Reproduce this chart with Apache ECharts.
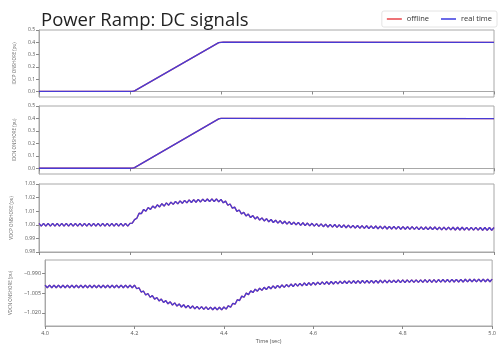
<!DOCTYPE html>
<html>
<head>
<meta charset="utf-8">
<script src="https://cdn.jsdelivr.net/npm/echarts@6/dist/echarts.min.js"></script>
<style>html,body{margin:0;padding:0;background:#fff}#c{width:499px;height:345px}</style>
</head>
<body>
<div id="c"></div>
<script>
// sampling grid of the DC voltage traces
const t0 = 4.0, dt = 0.005;

// current ramp breakpoints
const rampT = [4.0, 4.2, 4.205, 4.21, 4.395, 4.4, 4.405, 5.0];
const idcp  = [0, 0, 0.001, 0.005, 0.397, 0.4, 0.401, 0.4];
const idcn  = [0, 0, 0.001, 0.005, 0.397, 0.4, 0.401, 0.399];

// VDCP ONSHORE (pu)
const vdcp = [
1.001,0.999,1.001,0.999,1.001,0.999,1.001,0.999,1.001,0.999,1.001,0.999,1.001,0.999,1.001,0.999,1.001,0.999,1.001,0.999,
1.001,0.999,1.001,0.999,1.001,0.999,1.001,0.999,1.001,0.999,1.001,0.999,1.001,0.999,1.001,0.999,1.001,0.999,1.001,0.999,
1.001,1.0012,1.0038,1.0048,1.0085,1.0082,1.0113,1.010,1.0127,1.0113,1.0138,1.0123,1.0147,1.0131,1.0155,1.0138,1.0161,1.0144,1.0167,1.015,
1.0172,1.0154,1.0176,1.0158,1.018,1.0161,1.0183,1.0164,1.0185,1.0166,1.0187,1.0168,1.0189,1.017,1.019,1.0171,1.0191,1.0171,1.019,1.0169,
1.0187,1.0162,1.0174,1.0144,1.0153,1.0122,1.013,1.0099,1.0109,1.008,1.0092,1.0065,1.0079,1.0053,1.0068,1.0043,1.0059,1.0035,1.0051,1.0028,
1.0045,1.0022,1.0039,1.0017,1.0034,1.0012,1.003,1.0008,1.0026,1.0005,1.0023,1.0002,1.002,0.9999,1.0018,0.9996,1.0015,0.9994,1.0013,0.9992,
1.0011,0.999,1.0009,0.9988,1.0007,0.9986,1.0005,0.9984,1.0003,0.9983,1.0002,0.9981,1.000,0.998,0.9999,0.9978,0.9998,0.9977,0.9996,0.9976,
0.9995,0.9975,0.9994,0.9974,0.9993,0.9973,0.9992,0.9972,0.9991,0.9971,0.999,0.997,0.999,0.9969,0.9989,0.9969,0.9988,0.9968,0.9988,0.9967,
0.9987,0.9967,0.9986,0.9966,0.9986,0.9966,0.9985,0.9965,0.9985,0.9965,0.9984,0.9964,0.9984,0.9964,0.9984,0.9964,0.9983,0.9963,0.9983,0.9963,
0.9983,0.9963,0.9982,0.9962,0.9982,0.9962,0.9982,0.9962,0.9981,0.9961,0.9981,0.9961,0.9981,0.9961,0.998,0.996,0.998,0.996,0.998,0.996,
0.998
];

// VDCN ONSHORE (pu)
const vdcn = [
-0.999,-1.001,-0.999,-1.001,-0.999,-1.001,-0.999,-1.001,-0.999,-1.001,-0.999,-1.001,-0.999,-1.001,-0.999,-1.001,-0.999,-1.001,-0.999,-1.001,
-0.999,-1.001,-0.999,-1.001,-0.999,-1.001,-0.999,-1.001,-0.999,-1.001,-0.999,-1.001,-0.999,-1.001,-0.999,-1.001,-0.999,-1.001,-0.999,-1.001,
-0.999,-1.0018,-1.001,-1.0043,-1.0035,-1.0065,-1.0054,-1.0082,-1.007,-1.0097,-1.0084,-1.011,-1.0096,-1.0122,-1.0107,-1.0132,-1.0117,-1.0141,-1.0125,-1.0149,
-1.0133,-1.0156,-1.0139,-1.0162,-1.0144,-1.0166,-1.0148,-1.017,-1.0151,-1.0172,-1.0153,-1.0174,-1.0155,-1.0176,-1.0157,-1.0177,-1.0158,-1.0178,-1.0158,-1.0178,
-1.0156,-1.0172,-1.0146,-1.0158,-1.0128,-1.0135,-1.0101,-1.0107,-1.0074,-1.0082,-1.0051,-1.0062,-1.0034,-1.0047,-1.0021,-1.0036,-1.0014,-1.003,-1.0007,-1.0024,
-1.0001,-1.0018,-0.9996,-1.0014,-0.9992,-1.001,-0.9989,-1.0007,-0.9986,-1.0004,-0.9982,-1.0001,-0.9979,-0.9998,-0.9977,-0.9996,-0.9974,-0.9993,-0.9972,-0.9991,
-0.997,-0.9989,-0.9968,-0.9987,-0.9966,-0.9985,-0.9965,-0.9984,-0.9963,-0.9982,-0.9962,-0.9981,-0.996,-0.9979,-0.9959,-0.9978,-0.9958,-0.9977,-0.9957,-0.9976,
-0.9956,-0.9976,-0.9955,-0.9975,-0.9955,-0.9975,-0.9954,-0.9974,-0.9954,-0.9974,-0.9953,-0.9973,-0.9953,-0.9973,-0.9952,-0.9972,-0.9952,-0.9972,-0.9951,-0.9971,
-0.9951,-0.9971,-0.995,-0.997,-0.995,-0.997,-0.995,-0.997,-0.995,-0.997,-0.9949,-0.9969,-0.9949,-0.9969,-0.9949,-0.9969,-0.9948,-0.9968,-0.9948,-0.9968,
-0.9948,-0.9968,-0.9947,-0.9967,-0.9947,-0.9967,-0.9947,-0.9967,-0.9946,-0.9966,-0.9946,-0.9966,-0.9946,-0.9966,-0.9945,-0.9965,-0.9945,-0.9965,-0.9945,-0.9965,
-0.9945
];

const yNames = ['IDCP ONSHORE (pu)', 'IDCN ONSHORE (pu)', 'VDCP ONSHORE (pu)', 'VDCN ONSHORE (pu)'];
const yTicks1 = [0.0, 0.1, 0.2, 0.3, 0.4, 0.5];
const yTicks4 = [-1.020, -1.005, -0.990];

const seriesNames = ['offline', 'real time'];
const colors = ['#e8454a', '#3a3ae0'];

const chart = echarts.init(document.getElementById('c'), null, {renderer: 'canvas'});

const FONT = 'Open Sans';
const tops = [30, 106, 184, 260];
const heights = [67, 68, 68, 68];
const grids = tops.map((t, i) => ({
  left: 39, right: 5, top: t, height: heights[i],
  show: true, borderColor: '#a8a8a8', borderWidth: 1, containLabel: false
}));

const xAxes = tops.map((t, i) => ({
  type: 'value', gridIndex: i, min: 4.0, max: 5.0, interval: 0.2,
  axisLine: {show: true, lineStyle: {color: '#a8a8a8'}},
  axisTick: {show: true, length: 3, lineStyle: {color: '#888'}},
  splitLine: {show: false},
  axisLabel: {show: i === 3, fontSize: 5.5, color: '#555', fontFamily: FONT, margin: 4,
    formatter: v => v.toFixed(1)},
  name: i === 3 ? 'Time (sec)' : '',
  nameLocation: 'middle', nameGap: 12,
  nameTextStyle: {fontSize: 5.5, color: '#555', fontFamily: FONT}
}));

const yBase = (i) => ({
  type: 'value', gridIndex: i,
  axisLine: {show: true, lineStyle: {color: '#a8a8a8'}},
  axisTick: {show: true, length: 3, lineStyle: {color: '#888'}},
  splitLine: {show: false},
  name: yNames[i], nameLocation: 'middle', nameRotate: 90,
  nameTextStyle: {fontSize: 4.5, color: '#666', fontFamily: FONT}
});

const yAxes = [
  Object.assign(yBase(0), {min: -0.045, max: 0.5, nameGap: 17,
    axisTick: {show: true, length: 3, customValues: yTicks1, lineStyle: {color: '#888'}},
    axisLabel: {customValues: yTicks1, fontSize: 5, color: '#555', fontFamily: FONT, margin: 4, formatter: v => v.toFixed(1)}}),
  Object.assign(yBase(1), {min: -0.046, max: 0.5, nameGap: 17,
    axisTick: {show: true, length: 3, customValues: yTicks1, lineStyle: {color: '#888'}},
    axisLabel: {customValues: yTicks1, fontSize: 5, color: '#555', fontFamily: FONT, margin: 4, formatter: v => v.toFixed(1)}}),
  Object.assign(yBase(2), {min: 0.98, max: 1.03, interval: 0.01, nameGap: 19,
    axisLabel: {fontSize: 5, color: '#555', fontFamily: FONT, margin: 4, formatter: v => v.toFixed(2)}}),
  Object.assign(yBase(3), {min: -1.03, max: -0.98, nameGap: 26,
    axisTick: {show: true, length: 3, customValues: yTicks4, lineStyle: {color: '#888'}},
    axisLabel: {customValues: yTicks4, fontSize: 5.5, color: '#555', fontFamily: FONT, margin: 4,
      formatter: v => '\u2212' + Math.abs(v).toFixed(3)}})
];

const rampData = (arr) => rampT.map((t, i) => [t, arr[i]]);
const gridData = (arr) => arr.map((v, i) => [+(t0 + i * dt).toFixed(3), v]);
const panelData = [rampData(idcp), rampData(idcn), gridData(vdcp), gridData(vdcn)];

const series = [];
panelData.forEach((d, i) => {
  seriesNames.forEach((name, k) => {
    series.push({
      name: name, type: 'line', xAxisIndex: i, yAxisIndex: i,
      data: d, showSymbol: false, symbol: 'none', animation: false,
      lineStyle: {color: colors[k], width: 1.3, opacity: k === 1 ? 0.93 : 1},
      itemStyle: {color: colors[k]},
      z: 2 + k
    });
  });
});

chart.setOption({
  backgroundColor: '#fff',
  animation: false,
  title: {text: 'Power Ramp: DC signals', left: 36, top: 6,
    textStyle: {fontSize: 18.5, fontWeight: 'normal', color: '#222', fontFamily: FONT}},
  legend: {data: seriesNames, right: 2, top: 11, icon: 'rect', itemWidth: 15, itemHeight: 1.5,
    itemGap: 12, padding: [4, 5], borderColor: '#ddd', borderWidth: 0.8, borderRadius: 2,
    backgroundColor: '#fff',
    textStyle: {fontSize: 7.5, color: '#333', fontFamily: FONT}},
  grid: grids, xAxis: xAxes, yAxis: yAxes, series: series
});
</script>
</body>
</html>
